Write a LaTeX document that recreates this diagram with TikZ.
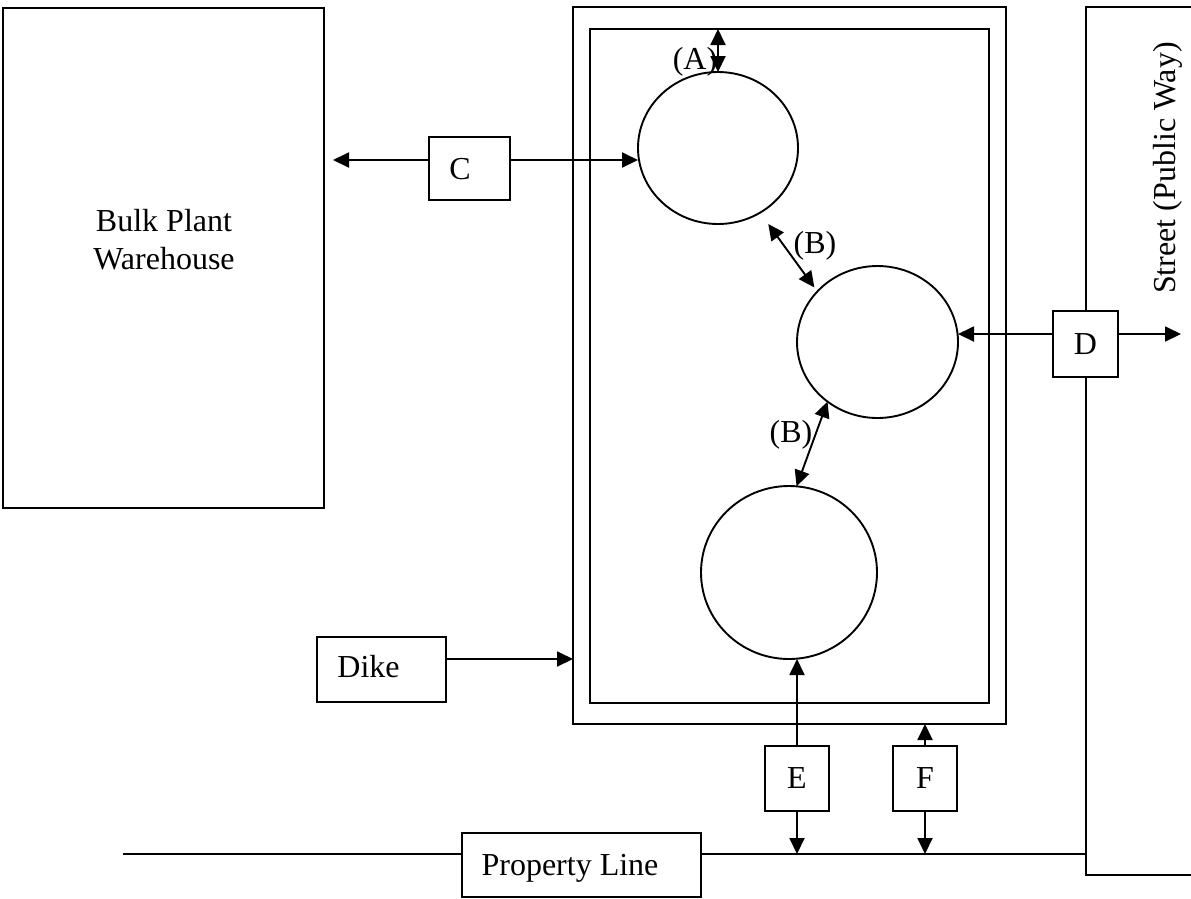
\documentclass[tikz,border=0pt]{standalone}
\usepackage{fontspec}
\setmainfont{Liberation Serif}
\usetikzlibrary{arrows.meta,shapes.geometric}
\begin{document}
\begin{tikzpicture}[x=1pt,y=-1pt,line width=1.9pt,
  box/.style={draw,rectangle,inner sep=0pt,outer sep=0pt,font=\fontsize{32}{38}\selectfont},
  wbox/.style={box,fill=white},
  tank/.style={draw,ellipse,inner sep=0pt,outer sep=0pt},
  lbl/.style={inner sep=0pt,anchor=base,font=\fontsize{32}{38}\selectfont},
  tip/.style={-{Triangle[length=16pt,width=15pt]}},
  dtip/.style={{Triangle[length=16pt,width=15pt]}-{Triangle[length=16pt,width=15pt]}}]
\useasboundingbox (0,0) rectangle (1191,898);

% warehouse
\node[box,minimum width=321,minimum height=500] (wh) at (163.5,258) {};
\node[lbl] (wh1) at (164,231) {Bulk Plant};
\node[lbl] (wh2) at (164,269) {Warehouse};

% dike walls
\node[box,minimum width=433,minimum height=717] (dike) at (789.5,365.5) {};
\node[box,minimum width=399,minimum height=674] (inner) at (789.5,366) {};

% street
\coordinate (s0) at (1195,7);
\coordinate (s1) at (1086,7);
\coordinate (s2) at (1086,875);
\coordinate (s3) at (1195,875);
\draw (s0) -- (s1) -- (s2) -- (s3);
\node[lbl,rotate=90] (st) at (1175,168) {Street (Public Way)};

% tanks
\node[tank,minimum width=160,minimum height=152] (t1) at (718,148) {};
\node[tank,minimum width=161,minimum height=152] (t2) at (877.5,342) {};
\node[tank,minimum width=176,minimum height=173] (t3) at (789,572.5) {};

% (A)
\draw[dtip] (t1.north |- inner.north) -- (t1.north);
\node[lbl] (la) at (695,69) {(A)};

% (B)
\draw[dtip,shorten <=14pt,shorten >=5pt] (t1.-57.5) -- (t2.140.6);
\node[lbl] (lb1) at (815,253) {(B)};
\draw[dtip] (t2.230) -- (t3.85);
\node[lbl] (lb2) at (791,442) {(B)};

% C
\node[box,minimum width=81,minimum height=63] (C) at (469.5,168.5) {};
\node[lbl] (lc) at (460,179) {C};
\coordinate (cl) at (333,160);
\draw[tip] ([yshift=8.5pt]C.west) -- (cl);
\draw[tip] ([yshift=8.5pt]C.east) -- ([yshift=8.5pt]C.east -| t1.west);

% D
\node[wbox,minimum width=65,minimum height=66] (D) at (1085.5,344) {D};
\coordinate (dr) at (1181,334);
\draw[tip] ([yshift=10pt]D.west) -- ([yshift=10pt]D.west -| t2.east);
\draw[tip] ([yshift=10pt]D.east) -- (dr);

% Dike label box
\node[box,minimum width=129,minimum height=65] (dk) at (381.5,669.5) {};
\node[lbl] (ldk) at (368.5,677) {Dike};
\draw[tip] ([yshift=10.5pt]dk.east) -- ([yshift=10.5pt]dk.east -| dike.west);

% property line
\coordinate (pl0) at (123,854);
\node[box,minimum width=239,minimum height=64] (plb) at (581.5,865) {};
\node[lbl] (lpl) at (570,875) {Property Line};
\draw (pl0) -- (pl0 -| plb.west);
\draw (pl0 -| plb.east) -- (pl0 -| s2);

% E and F
\node[box,minimum width=64,minimum height=65] (E) at (797,778.5) {E};
\node[box,minimum width=64,minimum height=65] (F) at (925,778.5) {F};
\draw[tip] (E.north) -- (E.north |- t3.south);
\draw[tip] (E.south) -- (E.south |- pl0);
\draw[tip] (F.north) -- (F.north |- dike.south);
\draw[tip] (F.south) -- (F.south |- pl0);
\end{tikzpicture}
\end{document}
